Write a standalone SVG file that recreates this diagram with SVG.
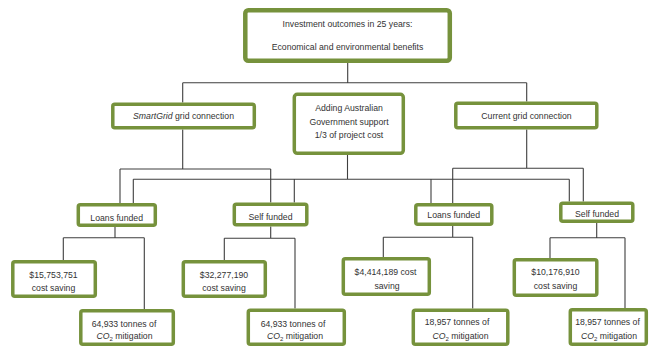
<svg xmlns="http://www.w3.org/2000/svg" width="650" height="348" viewBox="0 0 650 348">
<style>
.b{fill:#fff;stroke:#76923c;stroke-width:3.5}
.bt{fill:#fff;stroke:#76923c;stroke-width:4.5}
.c{fill:none;stroke:#3f3f3f;stroke-width:1.1}
text{font-family:"Liberation Sans",Arial,sans-serif;font-size:8.7px;fill:#333;text-anchor:middle}
.i{font-style:italic}
</style>
<rect width="650" height="348" fill="#fff"/>
<g id="connectors" class="c">
<path d="M347.7,63V82.7M182.7,82.7H526.7M182.7,82.7V102.5M526.7,82.7V101.5"/>
<path d="M182.7,129.5V169M120,169H270.7M120,169V203M270.7,169V202.5"/>
<path d="M347.5,155V179.3M133.3,179.3H569.3M133.3,179.3V203M294.3,179.3V202.5M431,179.3V203M569.3,179.3V201.5"/>
<path d="M526.7,129.5V168.3M452.7,168.3H583.3M452.7,168.3V203M583.3,168.3V201.5"/>
<path d="M115,227V237.7M63.3,237.7H144.3M63.3,237.7V260M144.3,237.7V309"/>
<path d="M270.7,226.5V238.3M224.3,238.3H295M224.3,238.3V260M295,238.3V308.5"/>
<path d="M452.7,226V237.3M383.3,237.3H472.7M383.3,237.3V257M472.7,237.3V308.5"/>
<path d="M596.7,223V237.7M550,237.7H625M550,237.7V258M625,237.7V308"/>
</g>
<g id="top">
<rect class="bt" x="245.3" y="10.3" width="204.5" height="50.5" rx="3"/>
<text x="347.5" y="27">Investment outcomes in 25 years:</text>
<text x="347.5" y="49.5">Economical and environmental benefits</text>
</g>
<g id="smartgrid">
<rect class="b" x="112.8" y="104.3" width="141.5" height="23.5" rx="2"/>
<text x="183.5" y="119"><tspan class="i">SmartGrid</tspan> grid connection</text>
</g>
<g id="govt">
<rect class="b" x="294.3" y="94.3" width="109" height="59" rx="3"/>
<text x="349" y="110.5">Adding Australian</text>
<text x="349" y="124.5">Government support</text>
<text x="349" y="138">1/3 of project cost</text>
</g>
<g id="current">
<rect class="b" x="455.8" y="103.3" width="141" height="24.5" rx="2"/>
<text x="526.5" y="119">Current grid connection</text>
</g>
<g id="loans1">
<rect class="b" x="78.3" y="204.8" width="77" height="20.5" rx="2"/>
<text x="116.7" y="220.5">Loans funded</text>
</g>
<g id="self1">
<rect class="b" x="234.3" y="204.3" width="72.5" height="20.5" rx="2"/>
<text x="270.5" y="220">Self funded</text>
</g>
<g id="loans2">
<rect class="b" x="415.8" y="204.8" width="76" height="19.5" rx="2"/>
<text x="453.7" y="218">Loans funded</text>
</g>
<g id="self2">
<rect class="b" x="560.8" y="203.3" width="72" height="18" rx="2"/>
<text x="597" y="217">Self funded</text>
</g>
<g id="b1">
<rect class="b" x="12.8" y="261.8" width="82.5" height="34.5" rx="2"/>
<text x="53.5" y="277.5">$15,753,751</text>
<text x="53.5" y="290.5">cost saving</text>
</g>
<g id="b2">
<rect class="b" x="80.8" y="310.8" width="92.5" height="33.5" rx="2"/>
<text x="124" y="326.5">64,933 tonnes of</text>
<text x="124.5" y="338.5"><tspan class="i">CO</tspan><tspan font-size="6" dy="2">2</tspan><tspan dy="-2"> mitigation</tspan></text>
</g>
<g id="b3">
<rect class="b" x="183.3" y="261.8" width="82" height="34.5" rx="2"/>
<text x="224" y="277.5">$32,277,190</text>
<text x="224" y="290.5">cost saving</text>
</g>
<g id="b4">
<rect class="b" x="248.3" y="310.3" width="96" height="34" rx="2"/>
<text x="293" y="326.5">64,933 tonnes of</text>
<text x="295" y="338.5"><tspan class="i">CO</tspan><tspan font-size="6" dy="2">2</tspan><tspan dy="-2"> mitigation</tspan></text>
</g>
<g id="b5">
<rect class="b" x="343.3" y="258.8" width="86" height="35.5" rx="2"/>
<text x="385.5" y="275">$4,414,189 cost</text>
<text x="387" y="289">saving</text>
</g>
<g id="b6">
<rect class="b" x="413.3" y="310.3" width="94.5" height="34" rx="2"/>
<text x="457" y="325">18,957 tonnes of</text>
<text x="460.5" y="338.5"><tspan class="i">CO</tspan><tspan font-size="6" dy="2">2</tspan><tspan dy="-2"> mitigation</tspan></text>
</g>
<g id="b7">
<rect class="b" x="514.3" y="259.8" width="82.5" height="35.5" rx="2"/>
<text x="555.5" y="275">$10,176,910</text>
<text x="555.5" y="289">cost saving</text>
</g>
<g id="b8">
<rect class="b" x="570.3" y="309.8" width="76" height="34.5" rx="2"/>
<text x="607.5" y="325">18,957 tonnes of</text>
<text x="609" y="338.5"><tspan class="i">CO</tspan><tspan font-size="6" dy="2">2</tspan><tspan dy="-2"> mitigation</tspan></text>
</g>
</svg>
